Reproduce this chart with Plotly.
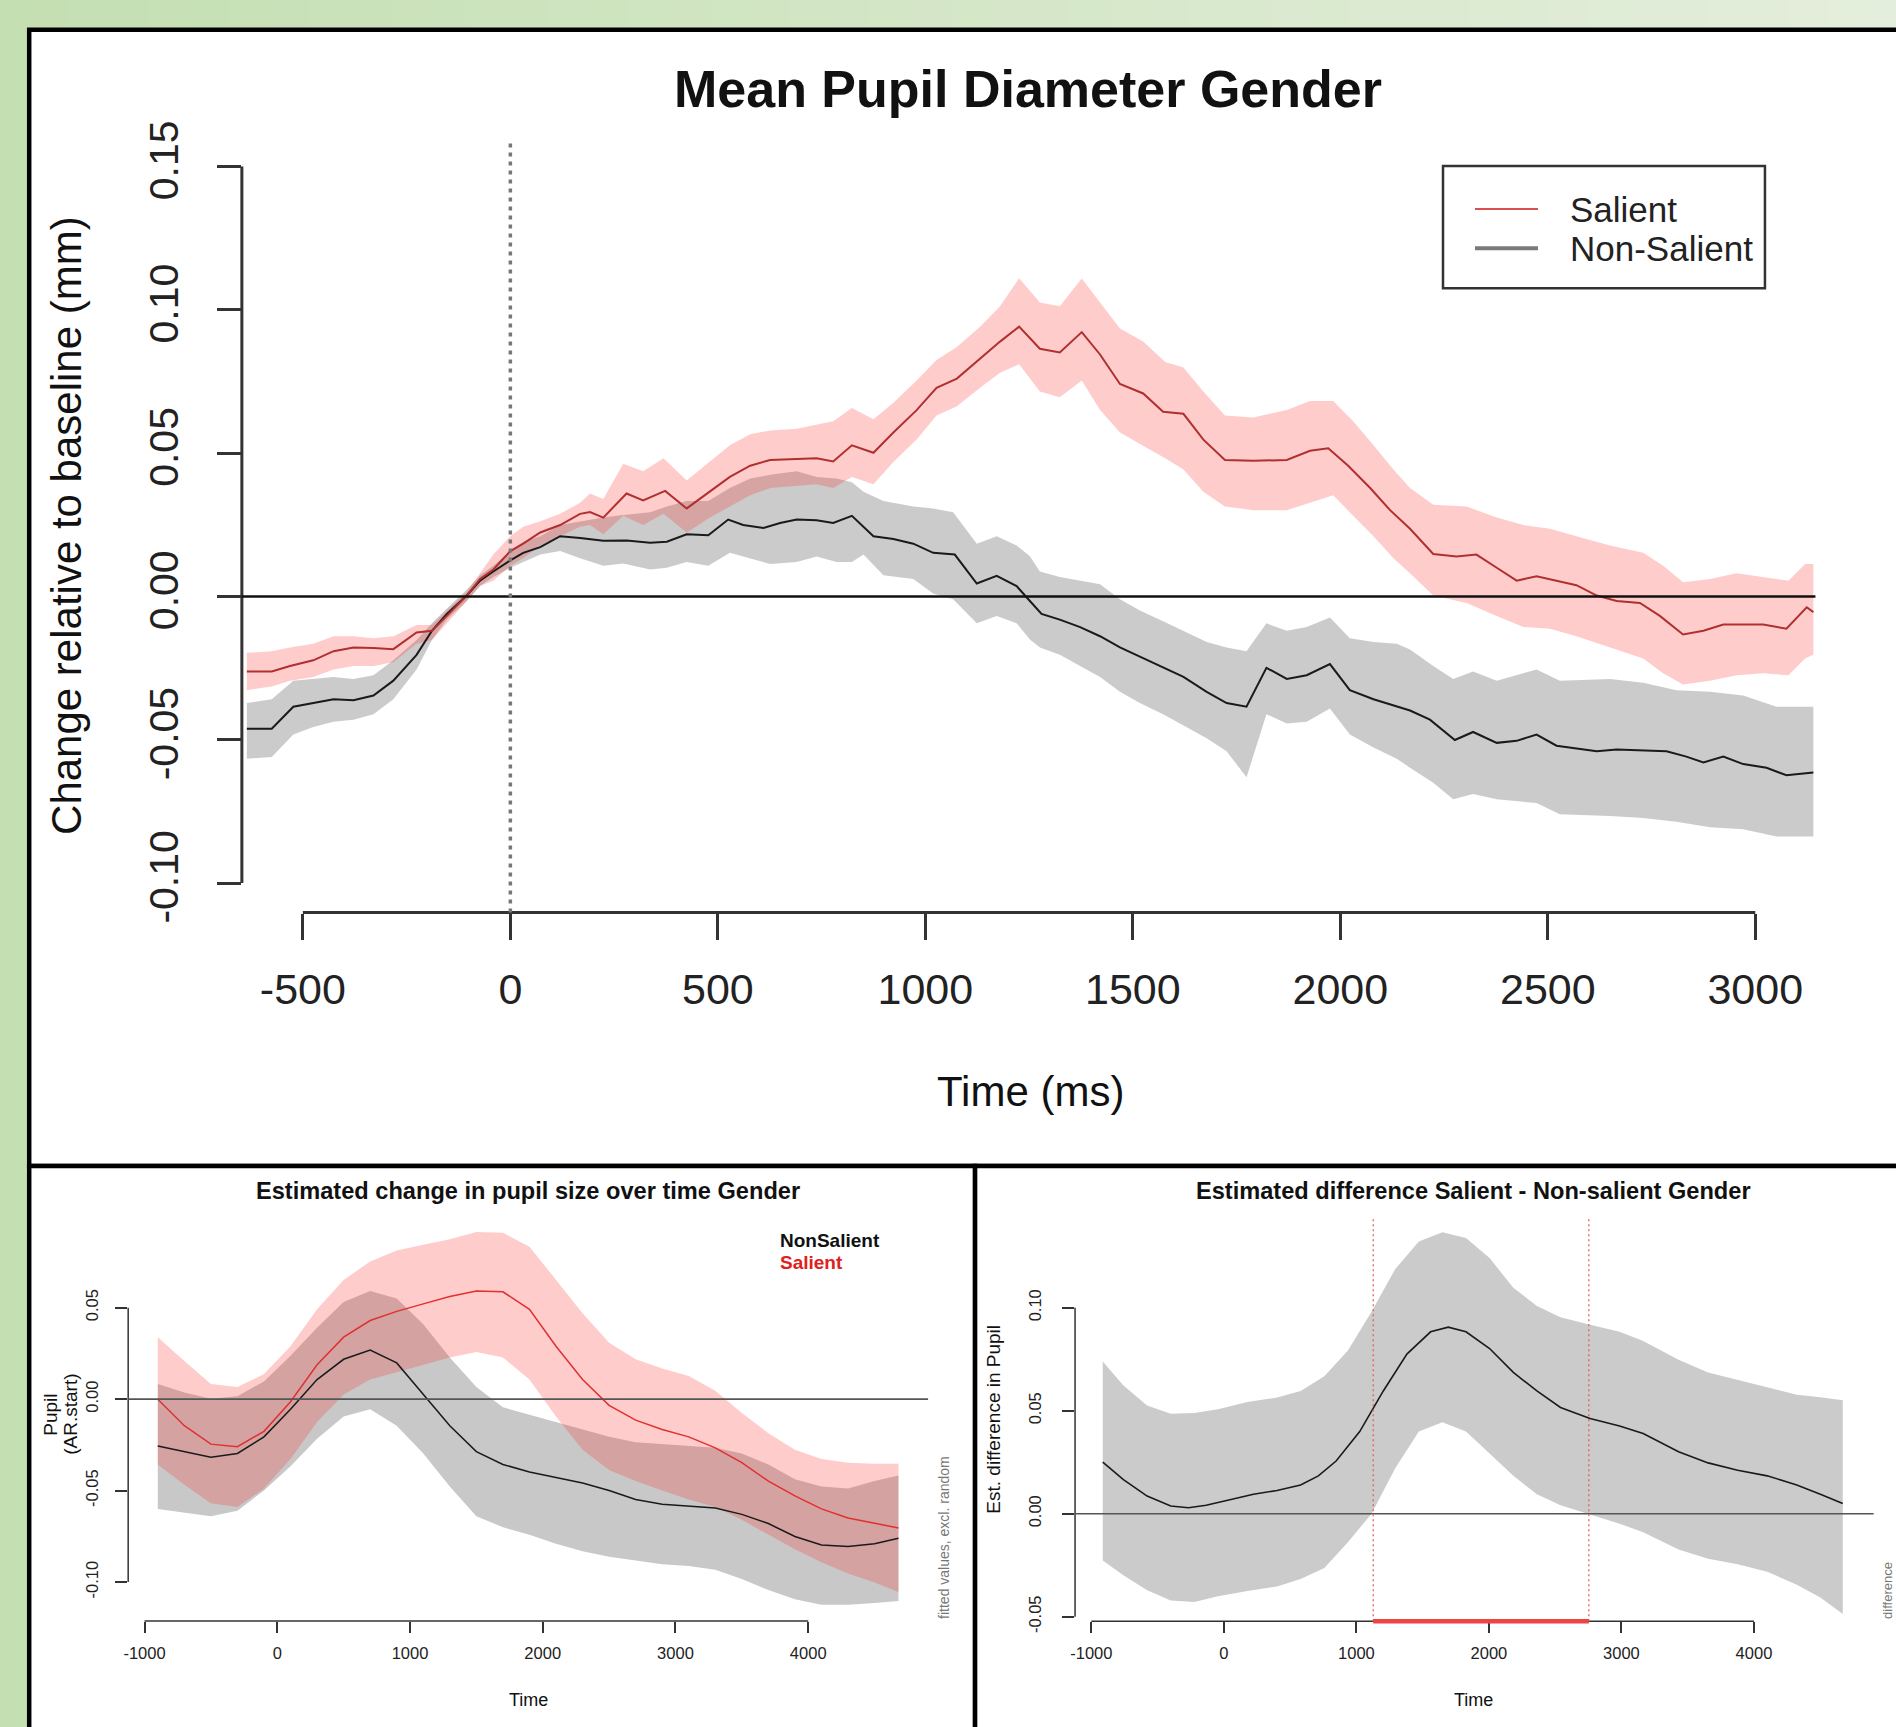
import plotly.graph_objects as go

W, H = 1896, 1727
FONT = "Liberation Sans, Arial, sans-serif"

# The page is photographed with a small offset/scale; these map the wanted
# on-screen pixel position to the paper coordinate that lands there.
XS, XO = 0.9975, 4.8
YS, YO = 0.9806, 19.3


def px(x):
    return ((x - XO) / XS) / W


def py(y):
    return 1 - ((y - YO) / YS) / H


# ---------------- Top panel data: Mean Pupil Diameter Gender ----------------
top_xticks = [-500, 0, 500, 1000, 1500, 2000, 2500, 3000]
top_yticks = [-0.10, -0.05, 0.00, 0.05, 0.10, 0.15]
top_ytick_text = ["-0.10", "-0.05", "0.00", "0.05", "0.10", "0.15"]

top_sal_t = [-635, -575, -531, -475, -426, -378, -330, -282, -226, -189,
             -153, -105, -73, -41, 0, 31, 72, 120, 168, 192,
             224, 280, 320, 373, 425, 481, 529, 578, 626, 690,
             738, 778, 823, 875, 923, 979, 1027, 1076, 1132, 1180,
             1226, 1276, 1324, 1377, 1421, 1469, 1525, 1573, 1622, 1670,
             1722, 1790, 1871, 1927, 1971, 2019, 2072, 2120, 2168, 2224,
             2280, 2328, 2377, 2425, 2473, 2521, 2569, 2618, 2666, 2722,
             2770, 2826, 2875, 2923, 2971, 3019, 3075, 3124, 3140]
top_sal_mean = [-0.0262, -0.0262, -0.0243, -0.0223, -0.0191, -0.0178, -0.0180, -0.0184, -0.0126, -0.0120,
                -0.0068, 0.0003, 0.0061, 0.0094, 0.0158, 0.0184, 0.0223, 0.0249, 0.0288, 0.0294,
                0.0275, 0.0359, 0.0335, 0.0368, 0.0307, 0.0365, 0.0417, 0.0456, 0.0476, 0.0479,
                0.0482, 0.0471, 0.0527, 0.0501, 0.0572, 0.0650, 0.0728, 0.0760, 0.0831, 0.0889,
                0.0941, 0.0864, 0.0851, 0.0922, 0.0844, 0.0741, 0.0708, 0.0644, 0.0637, 0.0547,
                0.0476, 0.0473, 0.0476, 0.0508, 0.0517, 0.0456, 0.0378, 0.0301, 0.0236, 0.0148,
                0.0139, 0.0146, 0.0100, 0.0055, 0.0070, 0.0055, 0.0039, 0.0003, -0.0016, -0.0023,
                -0.0068, -0.0133, -0.0120, -0.0098, -0.0098, -0.0098, -0.0113, -0.0038, -0.0055]

top_sal_band_t = [-635, -575, -531, -475, -426, -378, -330, -282, -226, -189,
                  -153, -105, -73, -41, 0, 31, 72, 120, 168, 192,
                  224, 272, 320, 369, 425, 481, 529, 578, 626, 690,
                  738, 778, 823, 875, 923, 979, 1027, 1076, 1132, 1180,
                  1226, 1276, 1324, 1377, 1421, 1469, 1525, 1578, 1622, 1670,
                  1722, 1790, 1871, 1927, 1983, 2031, 2080, 2128, 2168, 2224,
                  2304, 2377, 2441, 2505, 2569, 2650, 2730, 2778, 2826, 2891,
                  2955, 3019, 3080, 3120, 3140]
top_sal_upper = [-0.0197, -0.0191, -0.0178, -0.0165, -0.0139, -0.0139, -0.0146, -0.0139, -0.0100, -0.0100,
                 -0.0049, 0.0016, 0.0081, 0.0146, 0.0210, 0.0243, 0.0262, 0.0288, 0.0327, 0.0359,
                 0.0340, 0.0463, 0.0437, 0.0482, 0.0404, 0.0469, 0.0527, 0.0566, 0.0579, 0.0585,
                 0.0598, 0.0611, 0.0657, 0.0618, 0.0676, 0.0753, 0.0825, 0.0870, 0.0941, 0.1012,
                 0.1110, 0.1025, 0.1012, 0.1109, 0.1025, 0.0935, 0.0889, 0.0818, 0.0799, 0.0715,
                 0.0631, 0.0624, 0.0650, 0.0682, 0.0682, 0.0611, 0.0527, 0.0443, 0.0378, 0.0320,
                 0.0314, 0.0275, 0.0249, 0.0236, 0.0210, 0.0178, 0.0152, 0.0107, 0.0049, 0.0061,
                 0.0081, 0.0068, 0.0055, 0.0113, 0.0113]
top_sal_lower = [-0.0327, -0.0314, -0.0294, -0.0281, -0.0255, -0.0243, -0.0243, -0.0230, -0.0165, -0.0152,
                 -0.0094, -0.0016, 0.0036, 0.0055, 0.0107, 0.0133, 0.0178, 0.0210, 0.0243, 0.0249,
                 0.0217, 0.0281, 0.0249, 0.0288, 0.0223, 0.0275, 0.0314, 0.0353, 0.0378, 0.0385,
                 0.0391, 0.0378, 0.0417, 0.0391, 0.0469, 0.0547, 0.0631, 0.0663, 0.0728, 0.0780,
                 0.0810, 0.0715, 0.0695, 0.0753, 0.0650, 0.0572, 0.0527, 0.0482, 0.0443, 0.0365,
                 0.0314, 0.0301, 0.0301, 0.0327, 0.0353, 0.0281, 0.0210, 0.0133, 0.0081, 0.0003,
                 -0.0023, -0.0068, -0.0107, -0.0113, -0.0139, -0.0178, -0.0217, -0.0268, -0.0307, -0.0294,
                 -0.0275, -0.0268, -0.0275, -0.0217, -0.0204]

top_non_t = [-635, -575, -523, -475, -426, -378, -330, -282, -226, -189,
             -153, -105, -73, -41, 0, 31, 72, 120, 168, 224,
             280, 337, 377, 425, 477, 525, 561, 610, 650, 690,
             738, 778, 823, 875, 923, 971, 1019, 1071, 1124, 1172,
             1220, 1252, 1280, 1324, 1373, 1421, 1469, 1517, 1573, 1622,
             1678, 1726, 1774, 1822, 1871, 1919, 1975, 2023, 2080, 2136,
             2168, 2216, 2276, 2320, 2377, 2425, 2473, 2521, 2569, 2618,
             2666, 2730, 2786, 2834, 2875, 2923, 2971, 3027, 3075, 3140]
top_non_mean = [-0.0462, -0.0462, -0.0385, -0.0372, -0.0359, -0.0362, -0.0346, -0.0294, -0.0204, -0.0120,
                -0.0061, 0.0003, 0.0055, 0.0087, 0.0126, 0.0152, 0.0172, 0.0210, 0.0204, 0.0194,
                0.0195, 0.0187, 0.0191, 0.0217, 0.0213, 0.0268, 0.0249, 0.0239, 0.0256, 0.0268,
                0.0266, 0.0256, 0.0281, 0.0210, 0.0200, 0.0184, 0.0152, 0.0146, 0.0045, 0.0072,
                0.0036, -0.0016, -0.0061, -0.0081, -0.0107, -0.0139, -0.0178, -0.0210, -0.0249, -0.0281,
                -0.0333, -0.0372, -0.0385, -0.0249, -0.0288, -0.0275, -0.0236, -0.0327, -0.0359, -0.0385,
                -0.0398, -0.0430, -0.0501, -0.0473, -0.0511, -0.0504, -0.0482, -0.0521, -0.0530, -0.0540,
                -0.0534, -0.0537, -0.0540, -0.0559, -0.0579, -0.0559, -0.0585, -0.0598, -0.0624, -0.0614]

top_non_band_t = [-635, -575, -523, -475, -426, -378, -330, -282, -226, -189,
                  -153, -105, -73, -41, 0, 31, 72, 120, 168, 224,
                  272, 337, 377, 425, 477, 529, 578, 626, 690, 738,
                  786, 823, 851, 899, 971, 1019, 1067, 1124, 1172, 1220,
                  1252, 1276, 1324, 1373, 1421, 1469, 1517, 1573, 1622, 1678,
                  1726, 1774, 1822, 1871, 1919, 1975, 2023, 2080, 2136, 2168,
                  2224, 2272, 2320, 2377, 2473, 2529, 2650, 2730, 2810, 2891,
                  2971, 3051, 3140]
top_non_upper = [-0.0372, -0.0359, -0.0294, -0.0288, -0.0281, -0.0288, -0.0275, -0.0223, -0.0152, -0.0094,
                 -0.0042, 0.0023, 0.0074, 0.0107, 0.0158, 0.0191, 0.0210, 0.0249, 0.0262, 0.0275,
                 0.0284, 0.0294, 0.0314, 0.0333, 0.0333, 0.0378, 0.0411, 0.0424, 0.0437, 0.0417,
                 0.0411, 0.0398, 0.0365, 0.0333, 0.0314, 0.0307, 0.0294, 0.0184, 0.0210, 0.0178,
                 0.0140, 0.0087, 0.0068, 0.0055, 0.0042, -0.0010, -0.0049, -0.0087, -0.0120, -0.0159,
                 -0.0178, -0.0191, -0.0094, -0.0120, -0.0107, -0.0074, -0.0146, -0.0159, -0.0165, -0.0185,
                 -0.0243, -0.0288, -0.0262, -0.0294, -0.0255, -0.0294, -0.0288, -0.0301, -0.0327, -0.0333,
                 -0.0346, -0.0385, -0.0385]
top_non_lower = [-0.0566, -0.0560, -0.0482, -0.0456, -0.0437, -0.0430, -0.0411, -0.0359, -0.0255, -0.0152,
                 -0.0081, -0.0016, 0.0036, 0.0068, 0.0100, 0.0120, 0.0146, 0.0158, 0.0133, 0.0107,
                 0.0115, 0.0094, 0.0100, 0.0120, 0.0107, 0.0152, 0.0133, 0.0113, 0.0120, 0.0139,
                 0.0120, 0.0120, 0.0146, 0.0074, 0.0061, 0.0010, -0.0010, -0.0094, -0.0068, -0.0094,
                 -0.0150, -0.0178, -0.0204, -0.0243, -0.0281, -0.0333, -0.0372, -0.0411, -0.0450, -0.0495,
                 -0.0540, -0.0631, -0.0411, -0.0443, -0.0437, -0.0391, -0.0482, -0.0527, -0.0566, -0.0598,
                 -0.0650, -0.0708, -0.0689, -0.0708, -0.0721, -0.0760, -0.0766, -0.0773, -0.0786, -0.0805,
                 -0.0812, -0.0838, -0.0838]

# ---------------- Bottom-left data: Estimated change in pupil size ----------------
bl_xticks = [-1000, 0, 1000, 2000, 3000, 4000]
bl_yticks = [-0.10, -0.05, 0.00, 0.05]
bl_ytick_text = ["-0.10", "-0.05", "0.00", "0.05"]
bl_t = [-900, -700, -500, -300, -100, 100, 300, 500, 700, 900,
        1100, 1300, 1500, 1700, 1900, 2100, 2300, 2500, 2700, 2900,
        3100, 3300, 3500, 3700, 3900, 4100, 4300, 4500, 4680]
bl_non = [-0.0256, -0.0287, -0.0317, -0.0297, -0.0206, -0.0055, 0.0107, 0.0218, 0.0268, 0.0198,
          0.0026, -0.0145, -0.0287, -0.0357, -0.0398, -0.0428, -0.0458, -0.0499, -0.0549, -0.0575,
          -0.0583, -0.0595, -0.0630, -0.0680, -0.0751, -0.0797, -0.0805, -0.0791, -0.0761]
bl_non_hi = [0.0083, 0.0036, 0.0002, 0.0016, 0.0097, 0.0238, 0.0390, 0.0531, 0.0591, 0.0551,
             0.0410, 0.0228, 0.0067, -0.0044, -0.0085, -0.0125, -0.0166, -0.0206, -0.0236, -0.0246,
             -0.0256, -0.0266, -0.0297, -0.0357, -0.0438, -0.0478, -0.0489, -0.0448, -0.0418]
bl_non_lo = [-0.0600, -0.0620, -0.0640, -0.0610, -0.0499, -0.0367, -0.0216, -0.0095, -0.0055, -0.0145,
             -0.0297, -0.0478, -0.0640, -0.0700, -0.0741, -0.0791, -0.0832, -0.0862, -0.0882, -0.0902,
             -0.0912, -0.0933, -0.0983, -0.1044, -0.1094, -0.1124, -0.1124, -0.1114, -0.1104]
bl_sal = [0.0000, -0.0145, -0.0246, -0.0260, -0.0176, -0.0014, 0.0188, 0.0339, 0.0430, 0.0480,
          0.0521, 0.0561, 0.0591, 0.0587, 0.0491, 0.0289, 0.0107, -0.0034, -0.0115, -0.0166,
          -0.0206, -0.0266, -0.0347, -0.0448, -0.0529, -0.0600, -0.0650, -0.0680, -0.0704]
bl_sal_hi = [0.0339, 0.0208, 0.0083, 0.0067, 0.0137, 0.0289, 0.0491, 0.0652, 0.0753, 0.0813,
             0.0844, 0.0874, 0.0914, 0.0910, 0.0834, 0.0652, 0.0470, 0.0309, 0.0218, 0.0168,
             0.0127, 0.0046, -0.0075, -0.0186, -0.0277, -0.0327, -0.0347, -0.0353, -0.0353]
bl_sal_lo = [-0.0357, -0.0468, -0.0569, -0.0589, -0.0489, -0.0327, -0.0125, 0.0026, 0.0107, 0.0147,
             0.0188, 0.0228, 0.0258, 0.0228, 0.0107, -0.0095, -0.0277, -0.0388, -0.0448, -0.0499,
             -0.0549, -0.0589, -0.0660, -0.0741, -0.0821, -0.0892, -0.0953, -0.1003, -0.1054]

# ---------------- Bottom-right data: Estimated difference ----------------
br_xticks = [-1000, 0, 1000, 2000, 3000, 4000]
br_yticks = [-0.05, 0.00, 0.05, 0.10]
br_ytick_text = ["-0.05", "0.00", "0.05", "0.10"]
br_t = [-914, -758, -579, -401, -267, -134, 45, 223, 401, 579,
        713, 847, 1025, 1203, 1381, 1560, 1693, 1827, 2005, 2184,
        2362, 2540, 2763, 2986, 3164, 3431, 3654, 3877, 4100, 4323,
        4501, 4670]
br_diff = [0.0251, 0.0166, 0.0086, 0.0038, 0.0029, 0.0041, 0.0068, 0.0095, 0.0113, 0.0140,
           0.0184, 0.0256, 0.0399, 0.0596, 0.0775, 0.0883, 0.0906, 0.0883, 0.0802, 0.0686,
           0.0596, 0.0516, 0.0462, 0.0426, 0.0390, 0.0301, 0.0247, 0.0211, 0.0184, 0.0140,
           0.0095, 0.0050]
br_band_t = [-914, -758, -579, -401, -223, -45, 178, 401, 579, 758,
             936, 1114, 1292, 1471, 1649, 1827, 2005, 2184, 2362, 2540,
             2763, 2986, 3164, 3431, 3654, 3877, 4100, 4323, 4501, 4670]
br_upper = [0.0739, 0.0623, 0.0525, 0.0485, 0.0489, 0.0507, 0.0542, 0.0564, 0.0596, 0.0668,
            0.0793, 0.0981, 0.1187, 0.1321, 0.1366, 0.1339, 0.1241, 0.1097, 0.1008, 0.0954,
            0.0918, 0.0883, 0.0838, 0.0748, 0.0686, 0.0650, 0.0614, 0.0578, 0.0565, 0.0551]
br_lower = [-0.0227, -0.0299, -0.0371, -0.0421, -0.0428, -0.0400, -0.0375, -0.0353, -0.0317, -0.0263,
            -0.0138, 0.0000, 0.0220, 0.0399, 0.0444, 0.0399, 0.0292, 0.0184, 0.0095, 0.0041,
            -0.0004, -0.0048, -0.0090, -0.0174, -0.0218, -0.0245, -0.0281, -0.0344, -0.0406, -0.0487]
br_sig_window = [1127, 2754]

# ---------------- Figure ----------------
fig = go.Figure()


def band(t, hi, lo, color, xa, ya):
    fig.add_trace(go.Scatter(
        x=list(t) + list(t)[::-1], y=list(hi) + list(lo)[::-1],
        fill="toself", fillcolor=color, line=dict(width=0), mode="lines",
        hoverinfo="skip", showlegend=False, xaxis=xa, yaxis=ya))


def line(t, v, color, width, xa, ya, name):
    fig.add_trace(go.Scatter(x=t, y=v, mode="lines", name=name,
                             line=dict(color=color, width=width),
                             showlegend=False, xaxis=xa, yaxis=ya))


GRAY_BAND = "rgba(110,110,110,0.36)"
RED_BAND = "rgba(255,40,40,0.24)"

band(top_non_band_t, top_non_upper, top_non_lower, GRAY_BAND, "x", "y")
band(top_sal_band_t, top_sal_upper, top_sal_lower, RED_BAND, "x", "y")
line(top_non_t, top_non_mean, "#1a1a1a", 2, "x", "y", "Non-Salient")
line(top_sal_t, top_sal_mean, "#b03030", 2, "x", "y", "Salient")

band(bl_t, bl_non_hi, bl_non_lo, "rgba(110,110,110,0.38)", "x2", "y2")
band(bl_t, bl_sal_hi, bl_sal_lo, "rgba(255,40,40,0.24)", "x2", "y2")
line(bl_t, bl_non, "#1a1a1a", 1.5, "x2", "y2", "NonSalient")
line(bl_t, bl_sal, "#e03030", 1.5, "x2", "y2", "Salient")

band(br_band_t, br_upper, br_lower, "rgba(110,110,110,0.36)", "x3", "y3")
line(br_t, br_diff, "#1a1a1a", 1.6, "x3", "y3", "difference")

shapes = []

c0 = (196, 223, 178)
c1 = (228, 238, 220)
n = 48
for i in range(n):
    f = i / (n - 1)
    col = "rgb(%d,%d,%d)" % tuple(round(c0[k] + (c1[k] - c0[k]) * f) for k in range(3))
    shapes.append(dict(type="rect", xref="paper", yref="paper",
                       x0=px(-10 + i * 1920 / n), x1=px(-10 + (i + 1) * 1920 / n + 2),
                       y0=py(45), y1=py(-30),
                       fillcolor=col, line=dict(width=0), layer="below"))

for (x0, y0, x1, y1) in [(29, 31, 1910, 1165), (29, 1165, 975, 1760), (975, 1165, 1910, 1760)]:
    shapes.append(dict(type="rect", xref="paper", yref="paper",
                       x0=px(x0), x1=px(x1), y0=py(y1), y1=py(y0),
                       fillcolor="white", line=dict(color="black", width=4.5), layer="below"))

AX = "#333333"


def axis_lines(xa, ya, xt, yt, w):
    shapes.append(dict(type="line", xref=xa, yref=ya + " domain", x0=xt[0], x1=xt[-1], y0=0, y1=0,
                       line=dict(color=AX, width=w)))
    shapes.append(dict(type="line", xref=xa + " domain", yref=ya, x0=0, x1=0, y0=yt[0], y1=yt[-1],
                       line=dict(color=AX, width=w)))


axis_lines("x", "y", top_xticks, top_yticks, 3)
axis_lines("x2", "y2", bl_xticks, bl_yticks, 1.5)
axis_lines("x3", "y3", br_xticks, br_yticks, 1.5)

shapes.append(dict(type="line", xref="x domain", yref="y", x0=0, x1=1, y0=0, y1=0,
                   line=dict(color="#111", width=2.5)))
shapes.append(dict(type="line", xref="x2 domain", yref="y2", x0=0, x1=1, y0=0, y1=0,
                   line=dict(color="#555", width=1.6)))
shapes.append(dict(type="line", xref="x3 domain", yref="y3", x0=0, x1=1, y0=0, y1=0,
                   line=dict(color="#555", width=1.6)))
shapes.append(dict(type="line", xref="x", yref="y domain", x0=0, x1=0, y0=0, y1=1,
                   line=dict(color="#777", width=3.5, dash="4px,5px")))
for v in br_sig_window:
    shapes.append(dict(type="line", xref="x3", yref="y3 domain", x0=v, x1=v, y0=0, y1=1,
                       line=dict(color="#e06060", width=1.3, dash="2px,3px")))
shapes.append(dict(type="line", xref="x3", yref="y3 domain", x0=br_sig_window[0], x1=br_sig_window[1],
                   y0=0, y1=0, line=dict(color="#ee4444", width=4.5)))

shapes.append(dict(type="rect", xref="paper", yref="paper", x0=px(1443), x1=px(1765),
                   y0=py(289), y1=py(167), line=dict(color="#333", width=2.5), fillcolor="white"))
shapes.append(dict(type="line", xref="paper", yref="paper", x0=px(1475), x1=px(1538),
                   y0=py(210), y1=py(210), line=dict(color="#d85050", width=2)))
shapes.append(dict(type="line", xref="paper", yref="paper", x0=px(1475), x1=px(1538),
                   y0=py(249), y1=py(249), line=dict(color="#7a7a7a", width=4)))

annotations = []


def ann(x, y, text, size, color="#111", bold=False, angle=0, xanchor="center"):
    annotations.append(dict(x=px(x), y=py(y), xref="paper", yref="paper", text=text,
                            showarrow=False, textangle=angle, xanchor=xanchor, yanchor="middle",
                            font=dict(family=FONT, size=size, color=color,
                                      weight="bold" if bold else "normal")))


ann(1028, 90, "Mean Pupil Diameter Gender", 52, bold=True)
ann(1030, 1091, "Time (ms)", 42)
ann(67, 526, "Change relative to baseline (mm)", 42, angle=-90)
ann(1568, 210, "Salient", 35, color="#222", xanchor="left")
ann(1568, 249, "Non-Salient", 35, color="#222", xanchor="left")

ann(528, 1190, "Estimated change in pupil size over time Gender", 23.6, bold=True)
ann(528, 1698, "Time", 18)
ann(50, 1413, "Pupil", 19, angle=-90)
ann(70, 1413, "(AR.start)", 19, angle=-90)
ann(778, 1239, "NonSalient", 19, color="#111", bold=True, xanchor="left")
ann(778, 1261, "Salient", 19, color="#e02020", bold=True, xanchor="left")
ann(944, 1536, "fitted values, excl. random", 14, color="#777", angle=-90)

ann(1474, 1190, "Estimated difference Salient - Non-salient Gender", 23.6, bold=True)
ann(1474, 1698, "Time", 18)
ann(994, 1418, "Est. difference in Pupil", 19, angle=-90)
ann(1888, 1588, "difference", 13, color="#777", angle=-90)


def xax(domain, rng, ticks, anchor, size, tlen, tw, standoff):
    return dict(domain=domain, range=rng, anchor=anchor, tickmode="array", tickvals=ticks,
                ticktext=[str(t) for t in ticks], ticks="outside", ticklen=tlen, tickwidth=tw,
                tickcolor=AX, showline=False, showgrid=False, zeroline=False,
                tickfont=dict(family=FONT, size=size, color="#222"), ticklabelstandoff=standoff,
                fixedrange=True)


def yax(domain, rng, ticks, text, anchor, size, tlen, tw, standoff):
    return dict(domain=domain, range=rng, anchor=anchor, tickmode="array", tickvals=ticks,
                ticktext=text, ticks="outside", ticklen=tlen, tickwidth=tw, tickangle=-90,
                tickcolor=AX, showline=False, showgrid=False, zeroline=False,
                tickfont=dict(family=FONT, size=size, color="#222"), ticklabelstandoff=standoff,
                fixedrange=True)


fig.update_layout(
    width=W, height=H, margin=dict(l=0, r=0, t=0, b=0),
    paper_bgcolor="rgb(196,223,178)", plot_bgcolor="rgba(0,0,0,0)",
    showlegend=False,
    xaxis=xax([px(241.7), px(1815.5)], [-647, 3145], top_xticks, "y", 43, 26, 3, 13),
    yaxis=yax([py(912), py(140)], [-0.1103, 0.1596], top_yticks, top_ytick_text, "x", 41, 24, 3, 22),
    xaxis2=xax([px(128), px(928)], [-1123, 4903], bl_xticks, "y2", 16.5, 11, 1.5, 6),
    yaxis2=yax([py(1619), py(1216)], [-0.1213, 0.0995], bl_yticks, bl_ytick_text, "x2", 16.5, 12, 1.5, 11),
    xaxis3=xax([px(1075), px(1873.7)], [-1123, 4903], br_xticks, "y3", 16.5, 11, 1.5, 6),
    yaxis3=yax([py(1619.3), py(1215.7)], [-0.0522, 0.1441], br_yticks, br_ytick_text, "x3", 16.5, 12, 1.5, 14),
    shapes=shapes,
    annotations=annotations,
)

fig.write_html("out.html", config={"responsive": False})
